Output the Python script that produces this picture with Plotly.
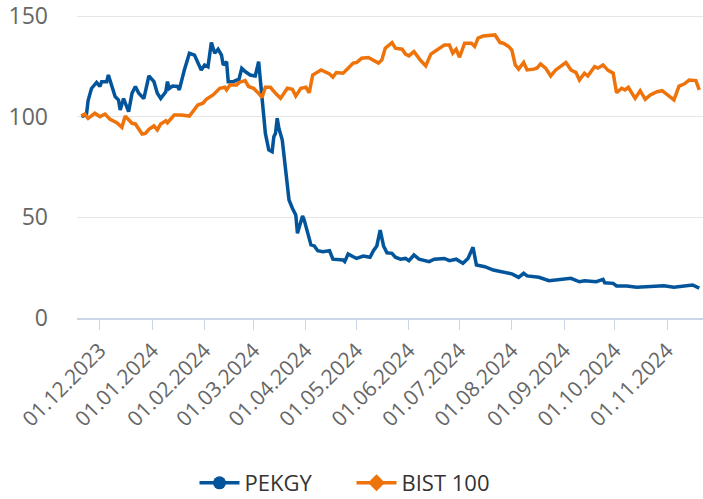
import plotly.graph_objects as go

pekgy_dates = ["2023-11-20","2023-11-23","2023-11-24","2023-11-26","2023-11-29","2023-12-01","2023-12-02","2023-12-05","2023-12-06","2023-12-08",
"2023-12-10","2023-12-12","2023-12-13","2023-12-15","2023-12-18","2023-12-20","2023-12-22","2023-12-24","2023-12-27","2023-12-30",
"2024-01-02","2024-01-04","2024-01-06","2024-01-09","2024-01-10","2024-01-11","2024-01-13","2024-01-16","2024-01-17","2024-01-20",
"2024-01-23","2024-01-26","2024-01-30","2024-02-01","2024-02-03","2024-02-05","2024-02-07","2024-02-09","2024-02-11","2024-02-12",
"2024-02-14","2024-02-15","2024-02-18","2024-02-20","2024-02-21","2024-02-23","2024-02-25","2024-02-28","2024-03-02","2024-03-04",
"2024-03-05","2024-03-07","2024-03-08","2024-03-10","2024-03-12","2024-03-13","2024-03-14","2024-03-15","2024-03-16","2024-03-18",
"2024-03-20","2024-03-22","2024-03-24","2024-03-26","2024-03-27","2024-03-30","2024-03-31","2024-04-02","2024-04-04","2024-04-06",
"2024-04-08","2024-04-11","2024-04-15","2024-04-17","2024-04-23","2024-04-24","2024-04-26","2024-04-29","2024-05-01","2024-05-05",
"2024-05-09","2024-05-11","2024-05-13","2024-05-15","2024-05-17","2024-05-19","2024-05-22","2024-05-24","2024-05-27","2024-05-30",
"2024-06-01","2024-06-04","2024-06-07","2024-06-13","2024-06-16","2024-06-22","2024-06-25","2024-06-29","2024-07-03","2024-07-06",
"2024-07-09","2024-07-11","2024-07-16","2024-07-21","2024-07-27","2024-08-01","2024-08-05","2024-08-08","2024-08-10","2024-08-17",
"2024-08-23","2024-08-29","2024-09-05","2024-09-10","2024-09-13","2024-09-20","2024-09-24","2024-09-25","2024-09-30","2024-10-02",
"2024-10-08","2024-10-14","2024-10-22","2024-10-30","2024-11-05","2024-11-11","2024-11-16","2024-11-20"]
pekgy_values = [100, 101, 108, 114, 117, 115, 117.4, 117.4, 120.7, 115.7,
110, 108.3, 103.3, 109, 102.5, 111.6, 115, 111.6, 109, 120.2,
117.4, 111.6, 109, 112.4, 117.4, 114, 115.2, 115, 113.3, 123.2,
131.5, 130.6, 123.2, 125.7, 124.8, 136.8, 131.5, 133.5, 130.6, 125.7,
127.3, 117.4, 117.4, 118.2, 117.4, 124, 122.4, 120.7, 120.2, 127.3,
117.4, 101.7, 91.7, 83.5, 82.6, 90, 91.7, 99.2, 94.2, 88.4,
73.5, 58.6, 54.5, 51.2, 42.1, 50.7, 48.7, 42.1, 36.3, 35.8,
33.4, 32.9, 33.4, 29.2, 28.8, 28, 31.8, 30.4, 29.6, 30.8,
30.2, 33.4, 35.8, 43.7, 35.8, 32.4, 32.1, 30.2, 29.2, 29.6,
28.5, 31.3, 29.2, 28, 29.2, 29.6, 28.5, 29.2, 27.2, 29.6,
35.1, 26.3, 25.5, 23.8, 23, 21.9, 20.2, 22.2, 20.9, 20.2,
18.5, 18.9, 19.7, 18, 18.5, 18, 19.2, 17.5, 17.2, 15.9,
15.9, 15.3, 15.5, 16, 15.3, 16, 16.4, 14.8]

bist_dates = ["2023-11-20","2023-11-22","2023-11-24","2023-11-28","2023-12-01","2023-12-04","2023-12-07","2023-12-11","2023-12-14","2023-12-16",
"2023-12-20","2023-12-22","2023-12-26","2023-12-28","2023-12-30","2024-01-02","2024-01-04","2024-01-06","2024-01-09","2024-01-10",
"2024-01-14","2024-01-18","2024-01-23","2024-01-25","2024-01-28","2024-01-31","2024-02-02","2024-02-06","2024-02-10","2024-02-13",
"2024-02-14","2024-02-16","2024-02-20","2024-02-21","2024-02-25","2024-02-27","2024-03-01","2024-03-04","2024-03-06","2024-03-08",
"2024-03-11","2024-03-14","2024-03-17","2024-03-21","2024-03-24","2024-03-26","2024-03-29","2024-04-01","2024-04-03","2024-04-05",
"2024-04-10","2024-04-15","2024-04-17","2024-04-19","2024-04-23","2024-04-26","2024-04-29","2024-05-01","2024-05-04","2024-05-08",
"2024-05-11","2024-05-14","2024-05-16","2024-05-18","2024-05-22","2024-05-24","2024-05-28","2024-05-30","2024-06-01","2024-06-04",
"2024-06-08","2024-06-11","2024-06-14","2024-06-18","2024-06-22","2024-06-25","2024-06-27","2024-06-29","2024-07-01","2024-07-04",
"2024-07-08","2024-07-10","2024-07-12","2024-07-15","2024-07-22","2024-07-25","2024-07-27","2024-07-30","2024-08-01","2024-08-03",
"2024-08-05","2024-08-08","2024-08-10","2024-08-14","2024-08-16","2024-08-18","2024-08-21","2024-08-24","2024-08-27","2024-09-02",
"2024-09-05","2024-09-08","2024-09-10","2024-09-13","2024-09-15","2024-09-19","2024-09-21","2024-09-24","2024-09-27","2024-09-30",
"2024-10-02","2024-10-05","2024-10-07","2024-10-09","2024-10-13","2024-10-16","2024-10-19","2024-10-22","2024-10-26","2024-10-29",
"2024-11-01","2024-11-05","2024-11-08","2024-11-11","2024-11-14","2024-11-18","2024-11-20"]
bist_values = [100.3, 101.3, 99.2, 101.7, 100, 101.3, 98.7, 97, 94.7, 100.3,
96.7, 96.4, 91.4, 91.7, 93.7, 95.4, 93.4, 96.4, 98, 97,
100.8, 100.8, 100.3, 102.5, 105.8, 106.7, 108.6, 110.8, 114.1, 114.6,
113.3, 115.7, 115.7, 116.9, 117.9, 115, 114.1, 111.6, 109.6, 114.6,
114.6, 111.6, 109.1, 114.1, 113.6, 110.3, 114.1, 114.6, 111.9, 120.7,
123.2, 121.2, 119.6, 121.9, 121.6, 124.1, 126.6, 126.9, 129, 129.4,
128.2, 126.6, 128.2, 134, 136.8, 134, 133.5, 131.1, 130.2, 132.3,
127.9, 125.2, 131.1, 133.5, 135.6, 135.6, 131.5, 133.5, 129.5, 136.5,
136.5, 134.9, 139, 140.1, 140.6, 136.8, 136.5, 134.9, 133.1, 125.7,
123.6, 126.9, 123.2, 123.6, 124.2, 126.2, 124.1, 120.2, 123.2, 126.9,
123.2, 121.9, 118.2, 121.6, 120.2, 124.8, 124.1, 125.7, 123, 121.6,
111.9, 114.1, 113.3, 114.6, 109.1, 112.9, 108.6, 110.8, 112.4, 112.9,
110.8, 108.3, 115.2, 116.2, 118.2, 117.9, 113.3]

tick_dates = ["2023-12-01","2024-01-01","2024-02-01","2024-03-01","2024-04-01","2024-05-01",
              "2024-06-01","2024-07-01","2024-08-01","2024-09-01","2024-10-01","2024-11-01"]
tick_labels = ["01.12.2023","01.01.2024","01.02.2024","01.03.2024","01.04.2024","01.05.2024",
               "01.06.2024","01.07.2024","01.08.2024","01.09.2024","01.10.2024","01.11.2024"]
y_ticks = [0, 50, 100, 150]

BLUE = "#03559b"
ORANGE = "#ee730b"
FONT = "Open Sans"

fig = go.Figure()
fig.add_trace(go.Scatter(x=pekgy_dates, y=pekgy_values, mode="lines", name="PEKGY",
                         line=dict(color=BLUE, width=3.5), showlegend=False))
fig.add_trace(go.Scatter(x=bist_dates, y=bist_values, mode="lines", name="BIST 100",
                         line=dict(color=ORANGE, width=3.5), showlegend=False))
# legend entries
fig.add_trace(go.Scatter(x=[None], y=[None], mode="lines+markers", name="PEKGY",
                         line=dict(color=BLUE, width=3.5), marker=dict(symbol="circle", size=13, color=BLUE)))
fig.add_trace(go.Scatter(x=[None], y=[None], mode="lines+markers", name="BIST 100",
                         line=dict(color=ORANGE, width=3.5), marker=dict(symbol="diamond", size=13, color=ORANGE)))

fig.update_layout(
    width=703, height=499,
    margin=dict(l=77, r=0, t=15, b=181, autoexpand=False),
    paper_bgcolor="white", plot_bgcolor="white",
    font=dict(family=FONT, color="#666666", size=18),
    showlegend=True,
    legend=dict(orientation="h", x=0.5, xanchor="center", xref="container",
                y=16/499, yanchor="middle", yref="container",
                font=dict(size=22, color="#333333", family=FONT),
                itemwidth=40, entrywidth=102, tracegroupgap=0),
    hovermode=False,
)
fig.update_xaxes(
    type="date", range=["2023-11-17 10:00", "2024-11-22 05:00"],
    tickmode="array", tickvals=tick_dates, ticktext=tick_labels, tickangle=-45,
    showgrid=False, showline=True, linecolor="#ccd6eb", linewidth=2,
    ticks="outside", ticklen=10, tickcolor="#ccd6eb", tickwidth=1,
    tickfont=dict(size=21, color="#666666", family=FONT), zeroline=False,
)
fig.update_yaxes(
    range=[0, 150.5], tickmode="array", tickvals=y_ticks,
    showgrid=True, gridcolor="#e6e6e6", gridwidth=1, zeroline=False, showline=False,
    tickfont=dict(size=23, color="#666666", family=FONT), ticklabelstandoff=28,
    ticklabeloverflow="allow",
)

fig.write_html("out.html", config={"displayModeBar": False},
               post_script="document.body.style.margin='0px';")
